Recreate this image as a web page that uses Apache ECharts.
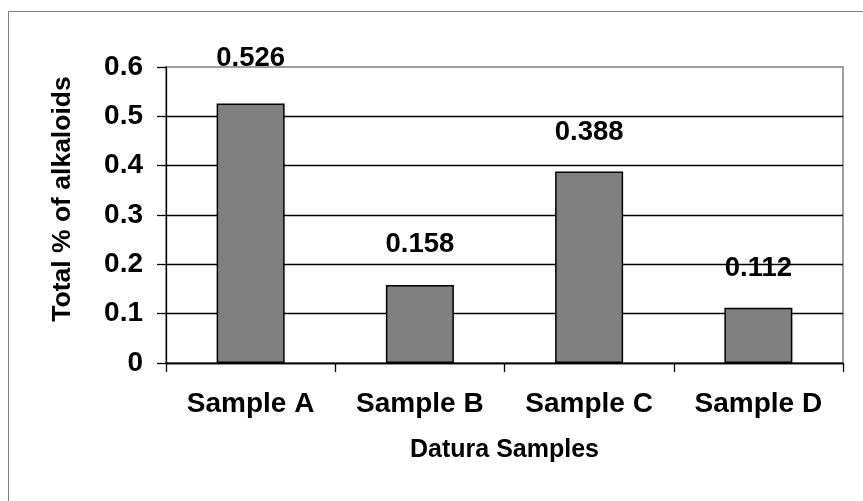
<!DOCTYPE html>
<html>
<head>
<meta charset="utf-8">
<script src="https://cdn.jsdelivr.net/npm/echarts@6/dist/echarts.min.js"></script>
<style>html,body{margin:0;padding:0;background:#fff;}#c{width:863px;height:501px;}</style>
</head>
<body>
<div id="c"></div>
<script>
const categories = ['Sample A', 'Sample B', 'Sample C', 'Sample D'];
const values = [0.526, 0.158, 0.388, 0.112];
const labelGaps = [31, 27, 25, 25];
const yTicks = [0, 0.1, 0.2, 0.3, 0.4, 0.5, 0.6];

const FONT = "'Liberation Sans', Arial, sans-serif";
const chart = echarts.init(document.getElementById('c'), null, {renderer: 'canvas'});
chart.setOption({
  animation: false,
  backgroundColor: '#fff',
  graphic: [{
    type: 'rect', shape: {x: 8.5, y: 11.5, width: 900, height: 600},
    style: {fill: 'none', stroke: '#808080', lineWidth: 1}, silent: true, z: -1
  }],
  grid: {left: 166, right: 20, top: 67, bottom: 138, show: true, borderColor: '#808080', borderWidth: 1.5, backgroundColor: 'transparent'},
  xAxis: {
    type: 'category', data: categories,
    name: 'Datura Samples', nameLocation: 'middle', nameGap: 75,
    nameTextStyle: {fontFamily: FONT, fontWeight: 'bold', fontSize: 25, color: '#000'},
    axisLine: {lineStyle: {color: '#000', width: 1.3}},
    axisTick: {show: true, length: 9, lineStyle: {color: '#000', width: 1.3}},
    axisLabel: {fontFamily: FONT, fontWeight: 'bold', fontSize: 28, color: '#000', margin: 27},
    splitLine: {show: false}
  },
  yAxis: {
    type: 'value', min: yTicks[0], max: yTicks[yTicks.length - 1], interval: 0.1,
    name: 'Total % of alkaloids', nameLocation: 'middle', nameGap: 90, nameRotate: 90,
    nameTextStyle: {fontFamily: FONT, fontWeight: 'bold', fontSize: 26.5, color: '#000', padding: [0, 0, 0, 32]},
    axisLine: {show: true, lineStyle: {color: '#000', width: 1.3}},
    axisTick: {show: true, length: 9, lineStyle: {color: '#000', width: 1.3}},
    axisLabel: {fontFamily: FONT, fontWeight: 'bold', fontSize: 28, color: '#000', margin: 23,
      formatter: v => String(Math.round(v * 10) / 10)},
    splitLine: {show: true, showMaxLine: false, lineStyle: {color: '#000', width: 1.3}}
  },
  series: [{
    type: 'bar',
    data: values.map((v, i) => ({value: v, label: {distance: labelGaps[i]}})),
    barWidth: 68,
    itemStyle: {color: '#808080', borderColor: '#000', borderWidth: 1.5},
    label: {show: true, position: 'top', fontFamily: FONT, fontWeight: 'bold', fontSize: 27.5, color: '#000'}
  }]
});
</script>
</body>
</html>
